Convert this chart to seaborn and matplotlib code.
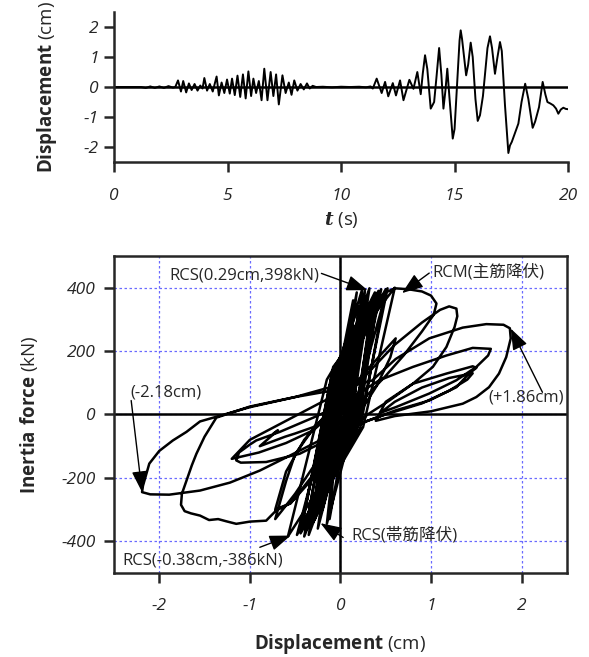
import matplotlib
matplotlib.use("Agg")
import matplotlib.pyplot as plt
import pandas as pd
import seaborn as sns

sns.set_style("ticks")
plt.rcParams['font.family'] = ['Open Sans', 'Noto Sans CJK JP', 'DejaVu Sans']
plt.rcParams['axes.unicode_minus'] = False
plt.rcParams['mathtext.fontset'] = 'custom'
plt.rcParams['mathtext.rm'] = 'Open Sans'
plt.rcParams['mathtext.bf'] = 'Open Sans:bold'
plt.rcParams['mathtext.bfit'] = 'DejaVu Serif:italic:bold'

# ---- displacement time history ----
t_early = [0.0, 1.2, 1.4, 1.6, 1.8, 2.0, 2.2, 2.4, 2.6]
d_early = [0.0, 0.0, -0.03, 0.02, -0.03, 0.02, -0.03, 0.03, -0.02]

t_mid = [2.70, 2.82, 2.95, 3.05, 3.18, 3.30, 3.42, 3.55, 3.68, 3.80,
         3.90, 3.98, 4.10, 4.22, 4.35, 4.52, 4.62, 4.74, 4.86, 4.98,
         5.10, 5.20, 5.32, 5.44, 5.56, 5.68, 5.80, 5.92, 6.04, 6.14,
         6.26, 6.38, 6.50, 6.62, 6.76, 6.90, 7.02, 7.14, 7.26, 7.42,
         7.56, 7.70, 7.82, 7.94, 8.08, 8.22, 8.36, 8.50, 8.62, 8.75, 8.90]
d_mid = [0.00, 0.22, -0.15, 0.20, -0.18, 0.12, -0.10, 0.10, -0.12, 0.05,
         -0.05, 0.30, -0.12, 0.10, -0.15, 0.35, -0.28, 0.15, -0.20, 0.25,
         -0.22, 0.28, -0.27, 0.38, -0.33, 0.42, -0.38, 0.52, -0.30, 0.28,
         -0.20, 0.20, -0.44, 0.61, -0.44, 0.50, -0.30, 0.42, -0.58, 0.39,
         -0.20, 0.15, -0.26, 0.22, -0.12, 0.10, -0.08, 0.12, -0.05, 0.04, 0.00]

t_quiet = [9.2, 9.6, 10.0, 10.4, 10.8, 11.1, 11.3]
d_quiet = [0.01, -0.01, 0.01, 0.0, 0.01, -0.01, 0.02]

t_late = [11.40, 11.57, 11.79, 11.94, 12.08, 12.28, 12.42, 12.60, 12.75, 13.01,
          13.19, 13.36, 13.51, 13.60, 13.70, 13.80, 13.95, 14.10, 14.20, 14.32,
          14.42, 14.51, 14.60, 14.68, 14.78, 14.92, 15.00, 15.12, 15.22, 15.27,
          15.33, 15.51, 15.60, 15.71, 15.80, 15.92, 16.02, 16.12, 16.25, 16.45,
          16.56, 16.65, 16.78, 16.88, 17.00, 17.08, 17.22, 17.37, 17.44, 17.52,
          17.81, 17.95, 18.11, 18.25, 18.44, 18.55, 18.72, 18.88, 19.00, 19.09,
          19.22, 19.35, 19.47, 19.57, 19.68, 19.79, 19.90, 20.00]
d_late = [-0.05, 0.28, -0.20, 0.17, -0.31, 0.13, -0.28, 0.22, -0.44, 0.24,
          -0.06, 0.50, -0.24, 0.45, 1.06, 0.60, -0.72, -0.50, 0.30, 1.30,
          0.40, -0.72, -0.10, 0.61, -0.40, -1.72, -1.40, 0.20, 1.55, 1.89,
          1.60, 0.39, 0.75, 1.48, 1.00, -0.40, -1.13, -0.94, -0.30, 1.30,
          1.69, 1.30, 0.44, 0.95, 1.50, 1.20, -0.60, -2.20, -1.95, -1.83,
          -1.22, -0.50, 0.11, -0.40, -1.36, -1.15, -0.67, 0.17, -0.25, -0.50,
          -0.55, -0.61, -0.72, -0.89, -0.75, -0.69, -0.73, -0.74]

# ---- hysteresis (displacement cm, inertia force kN) ----
center_d = [0.0, 0.12, 0.22, -0.02, -0.15, 0.08, 0.20, -0.04, -0.18, 0.12,
            0.30, 0.0, -0.15, 0.18, 0.35, -0.05, -0.28, 0.10, 0.25, -0.05,
            -0.22, 0.12, 0.28, -0.06, -0.28, 0.16, 0.38, -0.08, -0.33, 0.18,
            0.42, -0.10, -0.38, 0.22, 0.52, -0.02, -0.30, 0.12, 0.28, -0.02,
            -0.20, 0.08, 0.20, -0.12, -0.44, 0.25, 0.60, -0.08, -0.44, 0.22,
            0.50, -0.02, -0.30, 0.20, 0.42, -0.15, -0.58, 0.15, 0.39, 0.0,
            -0.20, 0.05, 0.15, -0.06, -0.26, 0.08, 0.22, 0.0, -0.12, 0.03,
            0.10, 0.0, -0.08, 0.04, 0.0]
center_f = [0, 100, 250, 60, -200, -20, 240, 40, -230, -10,
            330, 100, -210, 0, 360, 110, -320, -20, 340, 80,
            -300, 0, 360, 100, -330, -10, 385, 120, -350, -20,
            390, 120, -365, -20, 398, 140, -340, -30, 370, 100,
            -300, -10, 340, 90, -375, -40, 400, 150, -370, -40,
            395, 130, -340, -30, 385, 110, -385, -60, 380, 110,
            -300, -10, 280, 80, -310, -20, 300, 60, -200, -10,
            150, 20, -120, 50, 0]

center3_d = [0.06, 0.18, 0.02, -0.12, 0.06, 0.24, -0.05, -0.35, 0.10, 0.32,
             0.0, -0.25, 0.06, 0.14, -0.04, -0.48, 0.12, 0.27, 0.02, -0.15,
             0.15, 0.45, -0.06, -0.40, 0.05, 0.0]
center3_f = [120, 385, 140, -330, -40, 395, 120, -380, -30, 398,
             130, -360, -20, 360, 100, -380, -50, 390, 110, -345,
             -20, 395, 130, -385, -60, 0]

center2_d = [0.0, 0.12, 0.28, 0.0, -0.20, 0.06, 0.17, -0.08, -0.31, 0.04,
             0.13, -0.06, -0.28, 0.08, 0.22, -0.12, -0.44, 0.08, 0.24, 0.02,
             -0.10, 0.15, 0.50, 0.0, -0.24]
center2_f = [0, 60, 330, 80, -280, -20, 260, 60, -320, -40,
             230, 40, -310, -30, 290, 60, -360, -50, 300, 60,
             -150, 20, 380, 100, -300]

loop_ab_d = [0.05, 0.2, 0.35, 0.5, 0.6, 0.75, 0.9, 1.0, 1.06,
             1.03, 0.9, 0.7, 0.5, 0.3, 0.1, -0.1, -0.3, -0.5, -0.65, -0.72,
             -0.6, -0.5, -0.3, 0.0, 0.3, 0.6, 0.9, 1.1, 1.2, 1.28,
             1.29, 1.26, 1.17, 1.02, 0.8, 0.54, 0.3, 0.0, -0.3, -0.55, -0.72,
             -0.6, -0.4, -0.1, 0.2, 0.45, 0.61]
loop_ab_f = [-40, 200, 340, 385, 398, 395, 388, 375, 350,
             315, 262, 187, 122, 62, 0, -80, -165, -250, -305, -330,
             -210, -125, -45, 40, 130, 220, 290, 330, 341, 334,
             310, 276, 213, 150, 97, 44, 0, -80, -190, -280, -300,
             -180, -80, 20, 110, 190, 240]

loop_left2_d = [0.55, 0.4, 0.2, 0.0, -0.3, -0.55, -0.71, -0.82, -1.0, -1.15,
                -1.26, -1.35, -1.45, -1.55, -1.65, -1.72, -1.76,
                -1.75, -1.70, -1.64, -1.59, -1.5, -1.37, -1.0, -0.5, 0.0]
loop_left2_f = [180, 90, 0, -80, -200, -280, -303, -335, -338, -345,
                -337, -330, -333, -319, -312, -305, -285,
                -250, -209, -160, -124, -70, -10, 25, 55, 80]

loop_c_d = [0.35, 0.61, 0.98, 1.35, 1.61, 1.80, 1.87,
            1.88, 1.83, 1.75, 1.64, 1.5, 1.35, 1.0, 0.6, 0.39,
            0.5, 0.8, 1.17, 1.46, 1.50,
            1.42, 1.28, 0.98, 0.61, 0.3, 0.0, -0.45, -0.82, -1.10, -1.15]
loop_c_f = [107, 175, 240, 274, 285, 283, 272,
            240, 181, 129, 86, 55, 34, 10, -5, -20,
            40, 97, 129, 152, 147,
            129, 86, 44, 13, -20, -60, -124, -150, -152, -145]

loop_d_d = [-1.12, -1.0, -0.93, -0.67, -0.3, 0.0, 0.43, 0.8, 1.17, 1.46, 1.66,
            1.63, 1.50, 1.28, 0.98, 0.61, 0.44,
            0.6, 0.9, 1.2, 1.46]
loop_d_f = [-120, -95, -82, -55, -10, 30, 108, 150, 186, 210, 207,
            186, 150, 108, 66, 23, 5,
            40, 85, 115, 130]

loop_left1_d = [1.4, 1.2, 0.9, 0.5, 0.2, -0.07, -0.23, -0.56, -0.89, -1.22,
                -1.55, -1.89, -2.1, -2.19,
                -2.18, -2.14, -2.11, -2.0, -1.85, -1.7, -1.55, -1.22, -1.0, -0.5,
                0.0, 0.11]
loop_left1_f = [110, 75, 35, 0, -30, -50, -82, -130, -177, -215,
                -240, -253, -252, -245,
                -225, -185, -155, -115, -82, -55, -22, 5, 23, 55,
                95, 110]

tail_d = [0.05, -0.1, -0.3, -0.6, -0.9, -1.2, -1.0, -0.6, -0.2, 0.17,
          0.0, -0.3, -0.5, -0.61, -0.89, -0.69, -0.74]
tail_f = [60, 0, -50, -90, -120, -140, -80, -20, 40, 90,
          20, -40, -60, -70, -100, -50, -60]

time_df = pd.DataFrame({
    't': t_early + t_mid + t_quiet + t_late,
    'd': d_early + d_mid + d_quiet + d_late,
})
hyst_df = pd.DataFrame({
    'd': center_d + center3_d + center2_d + loop_ab_d + loop_left2_d + loop_c_d
         + loop_d_d + loop_left1_d + tail_d,
    'f': center_f + center3_f + center2_f + loop_ab_f + loop_left2_f + loop_c_f
         + loop_d_f + loop_left1_f + tail_f,
})

fig = plt.figure(figsize=(5.89, 6.57), dpi=100)
ax1 = fig.add_axes([0.1935, 0.7534, 0.771, 0.2283])
ax2 = fig.add_axes([0.1935, 0.1279, 0.769, 0.4825])

# top: time history
ax1.axhline(0, color='black', lw=1.8, zorder=1)
sns.lineplot(data=time_df, x='t', y='d', sort=False, estimator=None,
             color='black', lw=1.4, ax=ax1, zorder=2)
ax1.set_xlim(0, 20)
ax1.set_ylim(-2.5, 2.5)
ax1.set_xticks([0, 5, 10, 15, 20])
ax1.set_yticks([-2, -1, 0, 1, 2])
ax1.spines[['top', 'right']].set_visible(False)
ax1.set_xlabel(r'$\mathbfit{t}$ (s)', fontsize=13.5)
ax1.set_ylabel(r'$\mathbf{Displacement}$ (cm)', fontsize=13.5)
ax1.xaxis.set_label_coords(0.5, -0.32)
ax1.yaxis.set_label_coords(-0.12, 0.5)
ax1.tick_params(axis='x', direction='out', length=7, width=1.8, pad=12, labelsize=12.5)
ax1.tick_params(axis='y', direction='out', length=7, width=1.8, pad=4, labelsize=12.5)

# bottom: hysteresis
ax2.grid(True, color='#6a6aff', ls=(0, (2, 2)), lw=0.9)
ax2.axhline(0, color='black', lw=1.8, zorder=1)
ax2.axvline(0, color='black', lw=1.8, zorder=1)
sns.lineplot(data=hyst_df, x='d', y='f', sort=False, estimator=None,
             color='black', lw=1.8, ax=ax2, zorder=2)
ax2.set_xlim(-2.5, 2.5)
ax2.set_ylim(-500, 500)
ax2.set_xticks([-2, -1, 0, 1, 2])
ax2.set_yticks([-400, -200, 0, 200, 400])
ax2.set_xlabel(r'$\mathbf{Displacement}$ (cm)', fontsize=13.5)
ax2.set_ylabel(r'$\mathbf{Inertia\ force}$ (kN)', fontsize=13.5)
ax2.xaxis.set_label_coords(0.5, -0.185)
ax2.yaxis.set_label_coords(-0.163, 0.5)
ax2.tick_params(axis='x', direction='out', length=7, width=1.8, pad=11, labelsize=12.5)
ax2.tick_params(axis='y', direction='out', length=7, width=1.8, pad=6, labelsize=12.5)

for ax in (ax1, ax2):
    for sp in ax.spines.values():
        sp.set_linewidth(1.8)
    for lbl in ax.get_xticklabels() + ax.get_yticklabels():
        lbl.set_fontstyle('italic')

# annotations
arrow = dict(arrowstyle='-|>,head_length=0.65,head_width=0.24', color='black',
             lw=1, mutation_scale=20, shrinkA=0, shrinkB=0)
arrows = [((-0.21, 445), (0.30, 392)),
          ((0.98, 446), (0.68, 383)),
          ((2.23, 70), (1.88, 271)),
          ((-2.31, 44), (-2.19, -245)),
          ((-0.89, -419), (-0.55, -382)),
          ((0.03, -388), (-0.22, -343))]
for tail, tip in arrows:
    ax2.annotate('', xy=tip, xytext=tail, arrowprops=arrow, zorder=5)

ax2.text(-0.23, 438, 'RCS(0.29cm,398kN)', ha='right', va='center', fontsize=12)
ax2.text(1.01, 449, 'RCM(主筋降伏)', ha='left', va='center', fontsize=12)
ax2.text(2.05, 55, '(+1.86cm)', ha='center', va='center', fontsize=12)
ax2.text(-1.93, 70, '(-2.18cm)', ha='center', va='center', fontsize=12)
ax2.text(-1.52, -461, 'RCS(-0.38cm,-386kN)', ha='center', va='center', fontsize=12)
ax2.text(0.12, -382, 'RCS(帯筋降伏)', ha='left', va='center', fontsize=12)

fig.savefig('out.png', dpi=100)
